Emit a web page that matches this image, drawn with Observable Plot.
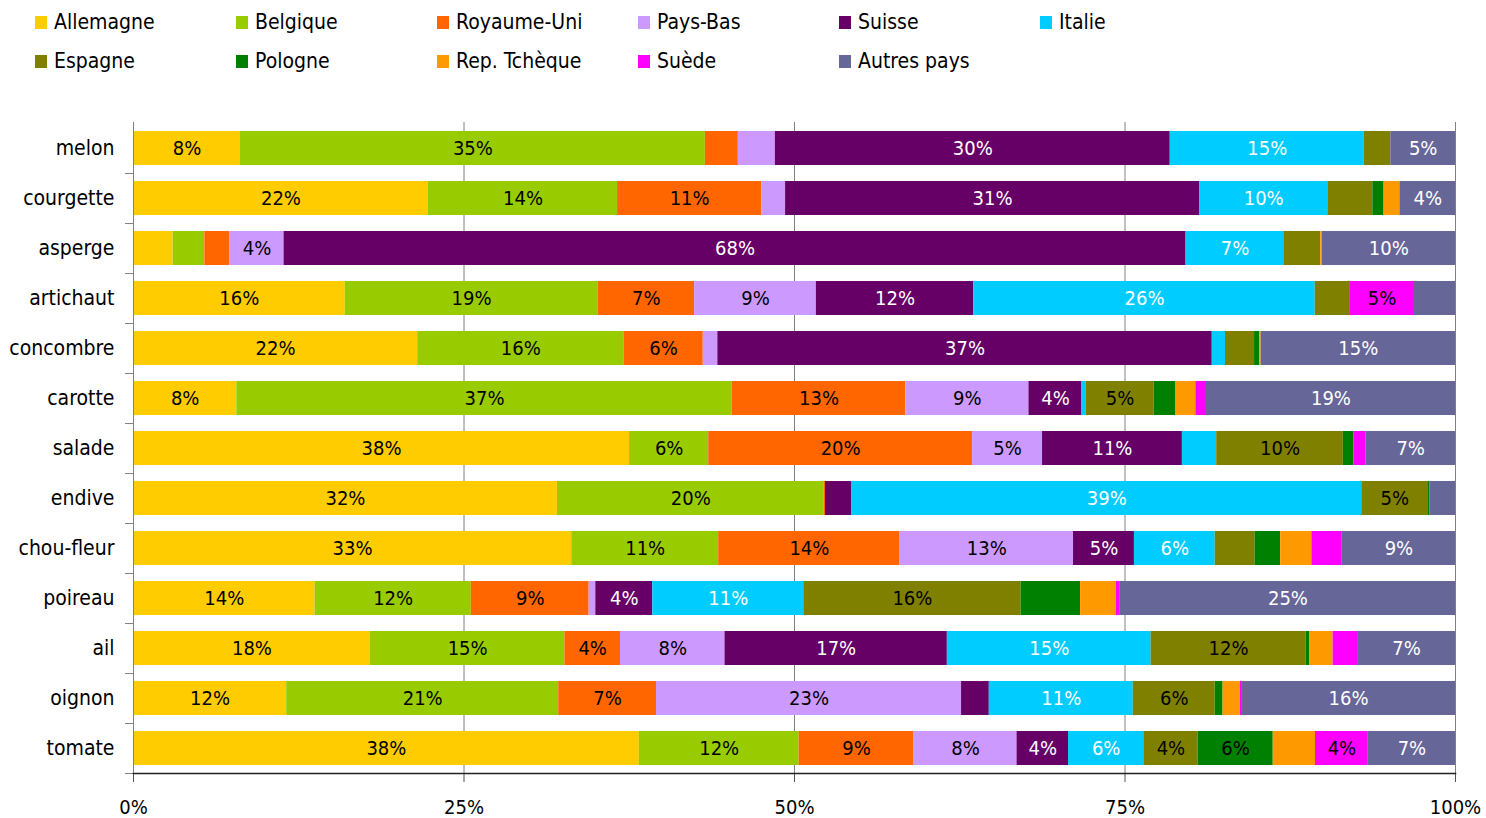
<!DOCTYPE html>
<html><head><meta charset="utf-8">
<script src="https://cdn.jsdelivr.net/npm/d3@7"></script>
<script src="https://cdn.jsdelivr.net/npm/@observablehq/plot@0.6"></script>
<style>
body{margin:0;background:#fff;font-family:"DejaVu Sans Condensed","DejaVu Sans",sans-serif;}
#legend{position:relative;height:90px;width:1486px;}
.item{position:absolute;display:flex;align-items:center;font-size:21px;height:30px;color:#000;white-space:nowrap;}
.sw{width:12px;height:13px;margin-right:7px;flex:none;}
</style></head><body>
<div id="legend"></div>
<div id="chart"></div>
<script>
const categories = ["melon","courgette","asperge","artichaut","concombre","carotte","salade","endive","chou-fleur","poireau","ail","oignon","tomate"];
const countries = ["Allemagne","Belgique","Royaume-Uni","Pays-Bas","Suisse","Italie","Espagne","Pologne","Rep. Tchèque","Suède","Autres pays"];
const colors = ["#FFCC00","#99CC00","#FF6600","#CC99FF","#660066","#00CCFF","#808000","#008000","#FF9900","#FF00FF","#666699"];
const labelColors = ["black","black","black","black","white","white","black","black","black","black","white"];

const allemagne = [8.1, 22.3, 3.0, 16.0, 21.5, 7.8, 37.6, 32.1, 33.1, 13.7, 17.9, 11.6, 38.3];
const belgique  = [35.2, 14.3, 2.4, 19.1, 15.6, 37.4, 6.0, 20.2, 11.1, 11.8, 14.7, 20.6, 12.1];
const royaumeUni= [2.5, 10.9, 1.9, 7.3, 6.0, 13.1, 20.0, 0.1, 13.7, 8.9, 4.2, 7.4, 8.7];
const paysBas   = [2.8, 1.8, 4.1, 9.2, 1.1, 9.3, 5.3, 0, 13.1, 0.5, 7.9, 23.1, 7.8];
const suisse    = [29.9, 31.3, 68.3, 11.9, 37.4, 4.0, 10.6, 2.0, 4.6, 4.3, 16.8, 2.1, 3.9];
const italie    = [14.7, 9.7, 7.4, 25.8, 1.0, 0.3, 2.6, 38.6, 6.1, 11.4, 15.4, 10.9, 5.7];
const espagne   = [2.0, 3.4, 2.8, 2.6, 2.2, 5.15, 9.6, 5.0, 3.0, 16.4, 11.7, 6.2, 4.1];
const pologne   = [0, 0.85, 0, 0, 0.4, 1.65, 0.8, 0.15, 1.95, 4.5, 0.3, 0.6, 5.7];
const tcheque   = [0, 1.2, 0.1, 0, 0.1, 1.5, 0, 0, 2.35, 2.7, 1.75, 1.3, 3.2];
const suede     = [0, 0, 0, 4.9, 0, 0.8, 0.9, 0, 2.3, 0.3, 1.85, 0.1, 4.0];
const autres    = [4.9, 4.2, 10.1, 3.1, 14.7, 18.8, 6.8, 1.95, 8.55, 25.3, 7.4, 16.2, 6.6];
const series = [allemagne, belgique, royaumeUni, paysBas, suisse, italie, espagne, pologne, tcheque, suede, autres];
const labelThreshold = 3.5;
const unlabeled = [["poireau","Pologne"]];
const xTicks = [0, 0.25, 0.5, 0.75, 1];

const FONT = '"DejaVu Sans Condensed","DejaVu Sans",sans-serif';

// legend
const leg = document.getElementById("legend");
countries.forEach((c, i) => {
  const col = i < 6 ? i : i - 6, row = i < 6 ? 0 : 1;
  const el = document.createElement("div");
  el.className = "item";
  el.style.left = (35 + col * 201) + "px";
  el.style.top = (row === 0 ? 22 : 61) - 15 + "px";
  el.innerHTML = `<span class="sw" style="background:${colors[i]}"></span><span>${c}</span>`;
  leg.appendChild(el);
});

const data = [];
categories.forEach((cat, j) => {
  countries.forEach((country, i) => {
    data.push({cat, country, value: series[i][j], dark: labelColors[i] === "white"});
  });
});
const isLabeled = d => d.value >= labelThreshold && !unlabeled.some(([c, s]) => c === d.cat && s === d.country);
const lbl = d => Math.round(d.value) + "%";

const W = 1486, H = 728, mT = 32, mB = 45, mL = 133, mR = 31;
const step = (H - mT - mB) / categories.length;

const chart = Plot.plot({
  width: W, height: H, marginTop: mT, marginBottom: mB, marginLeft: mL, marginRight: mR,
  style: {fontFamily: FONT, fontSize: "20px", color: "#000", background: "#fff"},
  x: {domain: [0, 1], label: null},
  y: {domain: categories, label: null, paddingInner: 0.32, paddingOuter: 0.16},
  color: {domain: countries, range: colors},
  marks: [
    Plot.ruleX([0.25, 0.5, 0.75, 1], {stroke: "#808080", strokeWidth: 1, strokeOpacity: 1}),
    Plot.barX(data, Plot.stackX({x: "value", y: "cat", fill: "country", z: "country", offset: "normalize"})),
    Plot.textX(data, Plot.stackX({x: "value", y: "cat", z: "country", offset: "normalize",
      text: d => (isLabeled(d) && !d.dark) ? lbl(d) : null, fill: "black", fontSize: 20})),
    Plot.textX(data, Plot.stackX({x: "value", y: "cat", z: "country", offset: "normalize",
      text: d => (isLabeled(d) && d.dark) ? lbl(d) : null, fill: "white", fontSize: 20})),
    Plot.ruleX([0], {stroke: "#808080", strokeWidth: 1}),
    Plot.axisY({tickSize: 0, tickPadding: 19, fontSize: 21}),
    Plot.axisY({tickSize: 8, tickFormat: () => "", dy: step / 2, stroke: "#808080"}),
    Plot.axisX({ticks: xTicks, tickFormat: d3.format(".0%"), tickSize: 9, tickPadding: 17, fontSize: 20, stroke: "#555"}),
    Plot.frame({anchor: "bottom", stroke: "#222", strokeWidth: 1.5})
  ]
});
document.getElementById("chart").appendChild(chart);
</script>
</body></html>
